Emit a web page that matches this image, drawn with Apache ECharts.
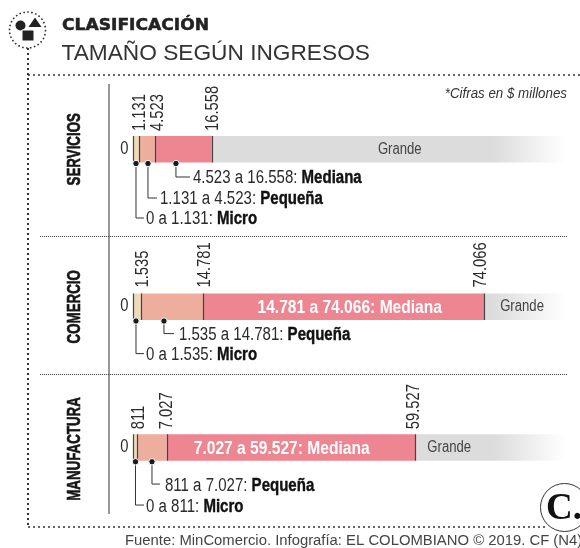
<!DOCTYPE html>
<html><head><meta charset="utf-8">
<style>html,body{margin:0;padding:0;background:#fff}#c{width:580px;height:548px}</style>
<script src="https://cdn.jsdelivr.net/npm/echarts@6/dist/echarts.min.js"></script>
</head><body><div id="c"></div>
<script>
// ---- data ----
const categories = ['SERVICIOS', 'COMERCIO', 'MANUFACTURA'];
const microLimit = [1131, 1535, 811];
const pequenaLimit = [4523, 14781, 7027];
const medianaLimit = [16558, 74066, 59527];
const axisMax = 91350;
const fadeStartValue = 76000;
const zeroLabel = '0';
const tickLabels = [['1.131','4.523','16.558'], ['1.535','14.781','74.066'], ['811','7.027','59.527']];
const medianaText = ['', '14.781 a 74.066: Mediana', '7.027 a 59.527: Mediana'];
const grandeText = ['Grande', 'Grande', 'Grande'];
const calloutAnchor = [[8966, 3059, 527], [6435, 527], [3903, 422]];
const calloutRange = [
  ['4.523 a 16.558: ', '1.131 a 4.523: ', '0 a 1.131: '],
  ['1.535 a 14.781: ', '0 a 1.535: '],
  ['811 a 7.027: ', '0 a 811: ']
];
const calloutName = [['Mediana', 'Pequeña', 'Micro'], ['Pequeña', 'Micro'], ['Pequeña', 'Micro']];

// ---- layout / style ----
const SANS = "'Liberation Sans',sans-serif";
const INK = '#2b2b2b';
const gridTop = [136, 293.5, 434.25];
const gridH = 26.5, gridL = 133.5, gridW = 432.5;
const NARROW = 0.82;
const medianaOffset = [0, 54, 27];
const grandeOffset = [166, 16, 12];
const tickDx = [[1.5, 3.5, 1.5], [2, 1.5, -3], [1.5, 0, -1.5]];
const tickGap = [5, 6, 5];
const sectorDy = [0, 0, 1.5];
const calloutGeom = [
  [{drop:13.5,run:14,gap:3},{drop:34.5,run:9,gap:3},{drop:54.5,run:8,gap:2}],
  [{drop:12.6,run:10,gap:5},{drop:32.6,run:8,gap:2}],
  [{drop:22.3,run:8,gap:5},{drop:43.3,run:8.5,gap:2}]
];
const colors = {micro:'#eedbb9', pequena:'#edae9d', mediana:'#ee8691', grande:'#dcdcdc'};

const txt = (text, x, y, size, fill, extra) => Object.assign({type: 'text', x, y, scaleX: NARROW,
  style: {text, fontFamily: SANS, fontSize: size, fill, align: 'left', verticalAlign: 'middle'}}, extra || {});

const grids = [], xAxes = [], yAxes = [], series = [];
categories.forEach((cat, i) => {
  const stack = 's' + i;
  const limits = [microLimit[i], pequenaLimit[i], medianaLimit[i]];
  grids.push({left: gridL, top: gridTop[i], width: gridW, height: gridH});
  xAxes.push({
    gridIndex: i, type: 'value', min: 0, max: axisMax, position: 'top', z: 6,
    splitLine: {show: false}, axisLine: {show: false}, axisLabel: {show: false},
    axisTick: {show: true, inside: true, length: gridH, customValues: [0].concat(limits),
               lineStyle: {color: '#444', width: 1.2}}
  });
  yAxes.push({
    gridIndex: i, type: 'category', data: [cat],
    axisLine: {show: false}, axisTick: {show: false}, axisLabel: {show: false}
  });
  const base = {type: 'bar', stack, xAxisIndex: i, yAxisIndex: i, barWidth: '100%', silent: true, animation: false};
  series.push(Object.assign({}, base, {name: 'Micro', data: [microLimit[i]], itemStyle: {color: colors.micro}}));
  series.push(Object.assign({}, base, {name: 'Pequeña', data: [pequenaLimit[i] - microLimit[i]], itemStyle: {color: colors.pequena}}));
  series.push(Object.assign({}, base, {name: 'Mediana', data: [medianaLimit[i] - pequenaLimit[i]], itemStyle: {color: colors.mediana}}));
  const fade = (fadeStartValue - medianaLimit[i]) / (axisMax - medianaLimit[i]);
  series.push(Object.assign({}, base, {name: 'Grande', data: [axisMax - medianaLimit[i]],
    itemStyle: {color: {type: 'linear', x: 0, y: 0, x2: 1, y2: 0, colorStops: [
      {offset: 0, color: colors.grande}, {offset: fade, color: colors.grande}, {offset: 1, color: '#ffffff'}]}}}));

  const customBase = {type: 'custom', xAxisIndex: i, yAxisIndex: i, silent: true, animation: false, clip: false, z: 8};
  // threshold labels, read upward above the bar
  series.push(Object.assign({}, customBase, {
    data: limits.map(v => [v, 0]),
    renderItem: (params, api) => {
      const k = params.dataIndex;
      const x = api.coord([api.value(0), 0])[0] + tickDx[i][k];
      return txt(tickLabels[i][k], x, params.coordSys.y - tickGap[i], 18, INK, {rotation: Math.PI / 2});
    }
  }));
  // zero, sector name and the labels inside the bar
  series.push(Object.assign({}, customBase, {
    data: [[0, 0]],
    renderItem: (params, api) => {
      const cs = params.coordSys, cy = cs.y + cs.height / 2;
      const kids = [
        txt(zeroLabel, cs.x - 5, cy - 0.5, 18, INK),
        {type: 'text', x: 75, y: cy + sectorDy[i], rotation: Math.PI / 2, scaleX: 0.74, style: {
          text: cat, fontFamily: SANS, fontWeight: 'bold', fontSize: 18, fill: '#161616',
          stroke: '#161616', lineWidth: 0.6, align: 'center', verticalAlign: 'middle'}}
      ];
      kids[0].style.align = 'right';
      if (medianaText[i]) {
        const xm = api.coord([pequenaLimit[i], 0])[0] + medianaOffset[i];
        const t = txt(medianaText[i], xm, cy + 1, 19, '#fff');
        t.style.fontWeight = 'bold';
        kids.push(t);
      }
      const xg = api.coord([medianaLimit[i], 0])[0] + grandeOffset[i];
      kids.push(txt(grandeText[i], xg, cy, 16, '#444'));
      return {type: 'group', children: kids};
    }
  }));
  // callouts with leader lines
  series.push(Object.assign({}, customBase, {
    data: calloutAnchor[i].map(v => [v, 0]),
    renderItem: (params, api) => {
      const k = params.dataIndex, g = calloutGeom[i][k];
      const x = api.coord([api.value(0), 0])[0];
      const y0 = params.coordSys.y + params.coordSys.height + 1;
      const y1 = y0 + g.drop;
      return {type: 'group', children: [
        {type: 'polyline', shape: {points: [[x, y0], [x, y1], [x + g.run, y1]]},
         style: {fill: null, stroke: '#333', lineWidth: 1}},
        {type: 'circle', shape: {cx: x, cy: y0, r: 3.2}, style: {fill: '#1a1a1a', stroke: '#fff', lineWidth: 1}},
        {type: 'text', x: x + g.run + g.gap, y: y1 + 1.5, scaleX: 0.835, style: {
          text: '{r|' + calloutRange[i][k] + '}{b|' + calloutName[i][k] + '}',
          verticalAlign: 'middle', align: 'left',
          rich: {
            r: {fontFamily: SANS, fontSize: 18, fill: INK, color: INK},
            b: {fontFamily: SANS, fontSize: 18, fontWeight: 'bold', fill: '#111', color: '#111', stroke: '#111', lineWidth: 0.4}
          }}}
      ]};
    }
  }));
});

const dotted = (x1, y1, x2, y2, w, dash, c) => ({type: 'line', silent: true, shape: {x1, y1, x2, y2},
  style: {stroke: c, lineWidth: w, lineDash: dash}});
const graphic = [
  dotted(28, 48, 28, 527, 2, [2, 3], '#333'),
  dotted(28, 75, 580, 75, 1.6, [2, 3], '#333'),
  dotted(28, 527, 548, 527, 1.6, [2, 3], '#333'),
  dotted(40, 236.5, 567, 236.5, 1, [1.2, 0.8], '#555'),
  dotted(40, 374.5, 567, 374.5, 1, [1.2, 0.8], '#555'),
  {type: 'line', silent: true, shape: {x1: 109, y1: 84, x2: 109, y2: 514}, style: {stroke: '#333', lineWidth: 1}},
  {type: 'circle', silent: true, shape: {cx: 27.5, cy: 30, r: 18}, style: {fill: '#fff', stroke: '#333', lineWidth: 1.6, lineDash: [1.6, 2.4]}},
  {type: 'circle', silent: true, shape: {cx: 20.5, cy: 25.5, r: 5}, style: {fill: '#222'}},
  {type: 'polygon', silent: true, shape: {points: [[35, 17.5], [41.5, 27], [28.5, 27]]}, style: {fill: '#222'}},
  {type: 'rect', silent: true, shape: {x: 22, y: 30, width: 12, height: 11}, style: {fill: '#222', stroke: '#fff', lineWidth: 1}},
  {type: 'text', silent: true, x: 62, y: 26, scaleX: 1.07, style: {text: 'CLASIFICACIÓN', fontFamily: "'DejaVu Sans'", fontWeight: 'bold', fontSize: 16, fill: '#222', stroke: '#222', lineWidth: 0.5, verticalAlign: 'middle'}},
  {type: 'text', silent: true, x: 61.5, y: 54, style: {text: 'TAMAÑO SEGÚN INGRESOS', fontFamily: SANS, fontSize: 22.7, fill: '#333', verticalAlign: 'middle'}},
  {type: 'text', silent: true, x: 567, y: 94, scaleX: 0.86, style: {text: '*Cifras en $ millones', fontFamily: SANS, fontStyle: 'italic', fontSize: 15.5, fill: '#333', align: 'right', verticalAlign: 'middle'}},
  {type: 'text', silent: true, x: 125, y: 541, style: {text: 'Fuente: MinComercio. Infografía: EL COLOMBIANO © 2019. CF (N4)', fontFamily: SANS, fontSize: 14.85, fill: '#444', verticalAlign: 'middle'}},
  {type: 'circle', silent: true, z: 20, shape: {cx: 564.5, cy: 507.5, r: 24}, style: {fill: '#fff', stroke: '#333', lineWidth: 1}},
  {type: 'text', silent: true, z: 21, x: 546, y: 509, style: {text: 'C.', fontFamily: "'Liberation Serif'", fontWeight: 'bold', fontSize: 37, fill: '#111', verticalAlign: 'middle'}}
];

const chart = echarts.init(document.getElementById('c'), null, {renderer: 'canvas'});
chart.setOption({animation: false, backgroundColor: '#fff', grid: grids, xAxis: xAxes, yAxis: yAxes, series, graphic});
</script></body></html>
